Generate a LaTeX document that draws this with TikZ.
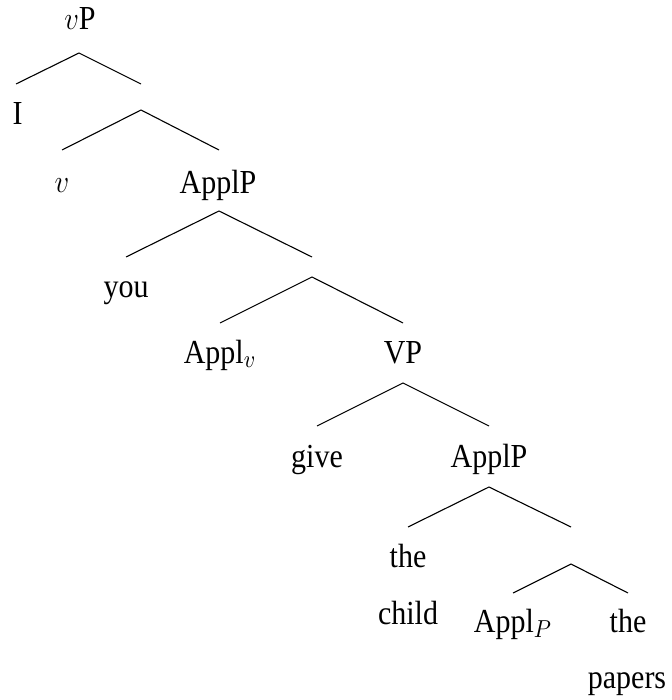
\documentclass[tikz,border=0pt]{standalone}
\usepackage{fontspec}
\usepackage{graphicx}
\setmainfont{Liberation Serif}
\newcommand{\tallt}[1]{\scalebox{1}[1.12]{#1}}
\begin{document}
\begin{tikzpicture}[x=0.5pt,y=-0.5pt,
  lbl/.style={anchor=base, inner sep=0pt, font=\fontsize{15}{18}\selectfont},
  br/.style={line width=0.55pt, black}]
\useasboundingbox (0,0) rectangle (672,700);
% labels
\node[lbl] (vP) at (80,30) {\tallt{$v$P}};
\node[lbl] (I) at (17.7,125) {\tallt{I}};
\node[lbl] (v) at (62,192) {\tallt{$v$}};
\node[lbl] (ApplPa) at (218,193) {\tallt{ApplP}};
\node[lbl] (you) at (126,297) {\tallt{you}};
\node[lbl] (Applv) at (220,363) {\tallt{Appl$_v$}};
\node[lbl] (VP) at (403,363) {\tallt{VP}};
\node[lbl] (give) at (317,467) {\tallt{give}};
\node[lbl] (ApplPb) at (489,467) {\tallt{ApplP}};
\node[lbl] (thea) at (408,567) {\tallt{the}};
\node[lbl] (child) at (408,624) {\tallt{child}};
\node[lbl] (ApplPP) at (513,632) {\tallt{Appl$_P$}};
\node[lbl] (theb) at (628,632) {\tallt{the}};
\node[lbl] (papers) at (627,688) {\tallt{papers}};
% branch points
\coordinate (a1) at (79,53);  \coordinate (l1) at (16,84);   \coordinate (r1) at (141,84);
\coordinate (a2) at (141,110); \coordinate (l2) at (62,150);  \coordinate (r2) at (219,150);
\coordinate (a3) at (219,211); \coordinate (l3) at (126,257); \coordinate (r3) at (312,257);
\coordinate (a4) at (312,277); \coordinate (l4) at (220,323); \coordinate (r4) at (403,323);
\coordinate (a5) at (403,383); \coordinate (l5) at (317,426); \coordinate (r5) at (489,426);
\coordinate (a6) at (489,487); \coordinate (l6) at (408,527); \coordinate (r6) at (571,527);
\coordinate (a7) at (571,564); \coordinate (l7) at (513,593); \coordinate (r7) at (628,593);
\foreach \i in {1,...,7} {
  \draw[br] (l\i) -- (a\i) -- (r\i);
}
\end{tikzpicture}
\end{document}
